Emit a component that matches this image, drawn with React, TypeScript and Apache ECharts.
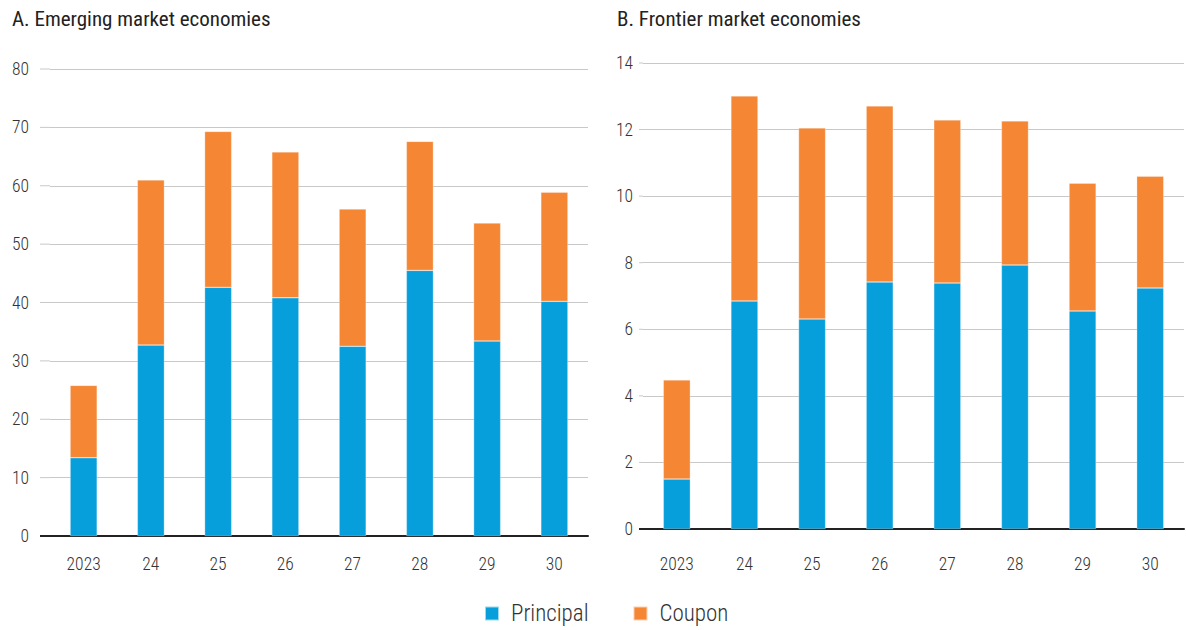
import React, { useEffect, useRef } from "react";
import * as echarts from "echarts";

const categories = ["2023", "24", "25", "26", "27", "28", "29", "30"];
const emPrincipal = [13.4, 32.7, 42.6, 40.8, 32.5, 45.5, 33.4, 40.2];
const emCoupon = [12.4, 28.3, 26.7, 25.0, 23.5, 22.1, 20.2, 18.7];
const fmPrincipal = [1.5, 6.85, 6.31, 7.42, 7.39, 7.93, 6.55, 7.24];
const fmCoupon = [2.98, 6.16, 5.74, 5.29, 4.9, 4.33, 3.84, 3.36];
const emTicks = [0, 10, 20, 30, 40, 50, 60, 70, 80];
const fmTicks = [0, 2, 4, 6, 8, 10, 12, 14];

const FONT = "'Roboto Condensed', 'Liberation Sans Narrow', Roboto, sans-serif";
const BLUE = "#079fdb";
const ORANGE = "#f58634";
const TEXT = "#333333";

export default function App() {
  const ref = useRef<HTMLDivElement>(null);
  useEffect(() => {
    if (!ref.current) return;
    const chart = echarts.init(ref.current, null, { renderer: "svg" });
    const yCommon = {
      type: "value" as const,
      axisLine: { show: false },
      axisTick: { show: false },
      splitLine: { lineStyle: { color: "#c8c8c8", width: 1 } },
      axisLabel: { color: TEXT, fontSize: 17.5, fontFamily: FONT, fontWeight: 300 },
    };
    const xCommon = {
      type: "category" as const,
      data: categories,
      axisTick: { show: false },
      axisLine: { lineStyle: { color: "#222", width: 2 } },
      axisLabel: { color: TEXT, fontSize: 17.5, fontFamily: FONT, fontWeight: 300 },
    };
    const barCommon = {
      type: "bar" as const,
      barWidth: 27,
      itemStyle: { borderColor: "rgba(255,255,255,0.6)", borderWidth: 0.5 },
    };
    chart.setOption({
      animation: false,
      title: [
        {
          text: "A. Emerging market economies",
          left: 7,
          top: 3,
          textStyle: { fontSize: 21, fontWeight: "normal", color: "#222", fontFamily: FONT },
        },
        {
          text: "B. Frontier market economies",
          left: 612,
          top: 3,
          textStyle: { fontSize: 21, fontWeight: "normal", color: "#222", fontFamily: FONT },
        },
      ],
      legend: {
        bottom: 0,
        left: 479,
        itemWidth: 14,
        itemHeight: 14,
        itemGap: 44,
        icon: "rect",
        textStyle: { fontSize: 23, color: TEXT, fontFamily: FONT, fontWeight: 300, padding: [0, 0, 0, 7] },
        data: ["Principal", "Coupon"],
      },
      grid: [
        { left: 50, right: 598, top: 69, bottom: 94 },
        { left: 643, right: 2, top: 63, bottom: 101 },
      ],
      xAxis: [
        { ...xCommon, gridIndex: 0, axisLabel: { ...xCommon.axisLabel, margin: 19 } },
        { ...xCommon, gridIndex: 1, axisLabel: { ...xCommon.axisLabel, margin: 26 } },
      ],
      yAxis: [
        { ...yCommon, gridIndex: 0, min: 0, max: emTicks[emTicks.length - 1], interval: emTicks[1] - emTicks[0], axisLabel: { ...yCommon.axisLabel, margin: 21 } },
        { ...yCommon, gridIndex: 1, min: 0, max: fmTicks[fmTicks.length - 1], interval: fmTicks[1] - fmTicks[0], axisLabel: { ...yCommon.axisLabel, margin: 10 } },
      ],
      series: [
        { ...barCommon, name: "Principal", stack: "em", xAxisIndex: 0, yAxisIndex: 0, data: emPrincipal, itemStyle: { ...barCommon.itemStyle, color: BLUE } },
        { ...barCommon, name: "Coupon", stack: "em", xAxisIndex: 0, yAxisIndex: 0, data: emCoupon, itemStyle: { ...barCommon.itemStyle, color: ORANGE } },
        { ...barCommon, name: "Principal", stack: "fm", xAxisIndex: 1, yAxisIndex: 1, data: fmPrincipal, itemStyle: { ...barCommon.itemStyle, color: BLUE } },
        { ...barCommon, name: "Coupon", stack: "fm", xAxisIndex: 1, yAxisIndex: 1, data: fmCoupon, itemStyle: { ...barCommon.itemStyle, color: ORANGE } },
      ],
    });
    // extend gridlines slightly to the left of each plot area
    const ext: any[] = [];
    emTicks.forEach((t) => {
      const y = chart.convertToPixel({ yAxisIndex: 0 }, t) as number;
      ext.push({
        type: "line",
        shape: { x1: 40, y1: y, x2: 50, y2: y },
        style: t === 0 ? { stroke: "#222", lineWidth: 2 } : { stroke: "#c8c8c8", lineWidth: 1 },
      });
    });
    fmTicks.forEach((t) => {
      const y = chart.convertToPixel({ yAxisIndex: 1 }, t) as number;
      ext.push({
        type: "line",
        shape: { x1: 639, y1: y, x2: 643, y2: y },
        style: t === 0 ? { stroke: "#222", lineWidth: 2 } : { stroke: "#c8c8c8", lineWidth: 1 },
      });
    });
    chart.setOption({ graphic: ext });
    return () => chart.dispose();
  }, []);
  return <div ref={ref} style={{ width: 1186, height: 630, position: "absolute", left: 0, top: 0, background: "#fff" }} />;
}
